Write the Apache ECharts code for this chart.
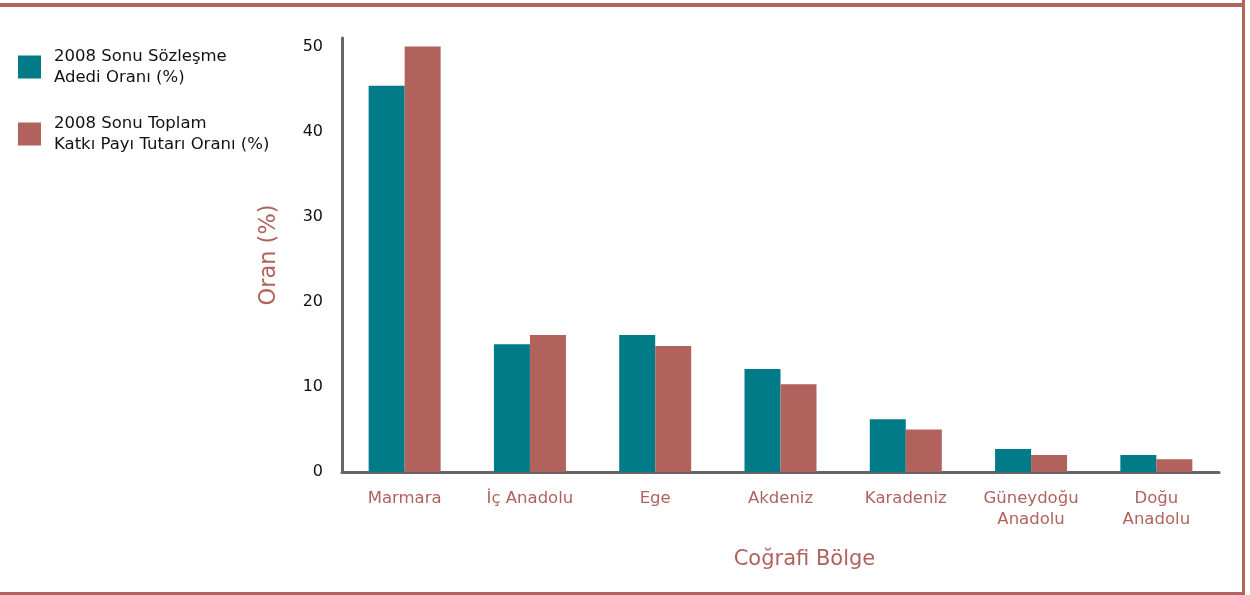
<!DOCTYPE html>
<html>
<head>
<meta charset="utf-8">
<script src="https://cdn.jsdelivr.net/npm/echarts@6/dist/echarts.min.js"></script>
<style>
html,body{margin:0;padding:0;background:#fff;}
#chart{width:1250px;height:595px;}
</style>
</head>
<body>
<div id="chart"></div>
<script>
const categories = ['Marmara', 'İç Anadolu', 'Ege', 'Akdeniz', 'Karadeniz', 'Güneydoğu\nAnadolu', 'Doğu\nAnadolu'];
const seriesNames = ['2008 Sonu Sözleşme Adedi Oranı (%)', '2008 Sonu Toplam Katkı Payı Tutarı Oranı (%)'];
const legendLabels = ['2008 Sonu Sözleşme\nAdedi Oranı (%)', '2008 Sonu Toplam\nKatkı Payı Tutarı Oranı (%)'];
const contractShare = [45.4, 15.0, 16.1, 12.1, 6.2, 2.7, 2.0];
const contributionShare = [50.0, 16.1, 14.8, 10.3, 5.0, 2.0, 1.5];
const yTicks = [0, 10, 20, 30, 40, 50];

const FONT = "'DejaVu Sans', sans-serif";
const TEAL = '#007b87';
const RED = '#b1625c';
const BORDER = '#b5635e';

const chart = echarts.init(document.getElementById('chart'), null, {renderer: 'canvas'});
chart.setOption({
  animation: false,
  backgroundColor: '#ffffff',
  textStyle: {fontFamily: FONT},
  legend: {
    orient: 'vertical',
    left: 18,
    top: 45,
    padding: 0,
    itemWidth: 23,
    itemHeight: 23,
    itemGap: 23,
    icon: 'rect',
    formatter: function (name) { return legendLabels[seriesNames.indexOf(name)]; },
    textStyle: {fontFamily: FONT, fontSize: 16.5, color: '#111', lineHeight: 21, padding: [2, 0, 0, 8]}
  },
  grid: {left: 342, right: 31, top: 38, bottom: 123, containLabel: false},
  xAxis: {
    type: 'category',
    data: categories,
    name: 'Coğrafi Bölge',
    nameLocation: 'middle',
    nameGap: 77,
    nameTextStyle: {fontFamily: FONT, fontSize: 21, color: RED, padding: [0, 0, 0, 48]},
    axisLine: {show: true, lineStyle: {color: '#666', width: 3}},
    axisTick: {show: false},
    axisLabel: {interval: 0, margin: 16, fontFamily: FONT, fontSize: 16.5, color: RED, lineHeight: 21}
  },
  yAxis: {
    type: 'value',
    min: 0,
    max: 51,
    interval: 10,
    name: 'Oran (%)',
    nameLocation: 'middle',
    nameGap: 61,
    nameTextStyle: {fontFamily: FONT, fontSize: 22.5, color: RED},
    axisLine: {show: true, lineStyle: {color: '#666', width: 3}},
    axisTick: {show: false},
    splitLine: {show: false},
    axisLabel: {
      margin: 19,
      fontFamily: FONT, fontSize: 16, color: '#111',
      formatter: function (v) { return yTicks.indexOf(v) >= 0 ? String(v) : ''; }
    }
  },
  series: [
    {name: seriesNames[0], type: 'bar', data: contractShare, barWidth: 36, barGap: '0%', itemStyle: {color: TEAL}},
    {name: seriesNames[1], type: 'bar', data: contributionShare, barWidth: 36, barGap: '0%', itemStyle: {color: RED}}
  ],
  graphic: [
    {type: 'rect', shape: {x: 0, y: 3, width: 1243, height: 4}, style: {fill: BORDER}, silent: true},
    {type: 'rect', shape: {x: 1242, y: 0, width: 3, height: 595}, style: {fill: BORDER}, silent: true},
    {type: 'rect', shape: {x: 0, y: 592, width: 1245, height: 3}, style: {fill: BORDER}, silent: true}
  ]
});
</script>
</body>
</html>
